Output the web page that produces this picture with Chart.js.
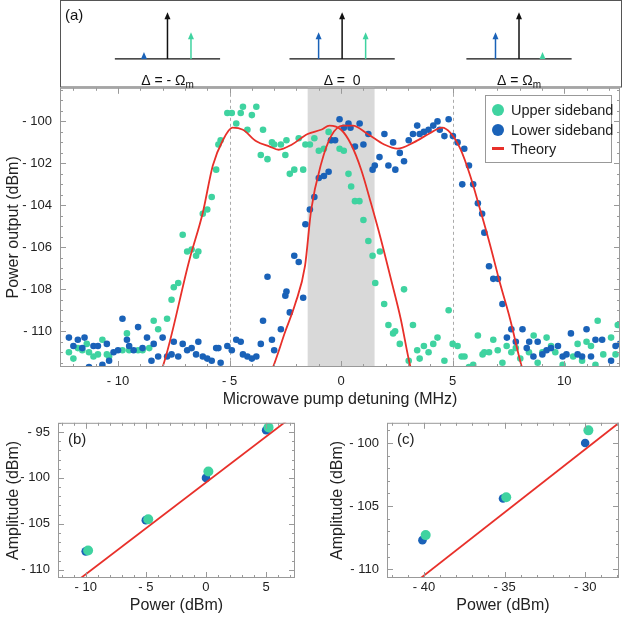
<!DOCTYPE html>
<html><head><meta charset="utf-8">
<script src="https://cdn.jsdelivr.net/npm/chart.js@4"></script>
<style>
body{margin:0;background:#fff;font-family:"Liberation Sans",Arial,sans-serif}
#wrap{position:relative;width:624px;height:619px;overflow:hidden}
.box{position:absolute}
#legend{position:absolute;left:485px;top:95px;width:125px;height:66px;border:1px solid #999;background:#fff;font-size:14.5px;color:#222}
.row{position:absolute;left:6px;height:20px;line-height:20px;white-space:nowrap}
.dot{display:inline-block;width:12px;height:12px;border-radius:50%;vertical-align:-1px;margin-right:7px}
.ln{display:inline-block;width:12px;height:3px;background:#e8302a;vertical-align:4px;margin-right:7px}
</style></head><body>
<div id="wrap">
 <div class="box" style="left:0;top:0;width:624px;height:90px"><canvas id="cTop"></canvas></div>
 <div class="box" style="left:0;top:72px;width:624px;height:341px"><canvas id="cMain"></canvas></div>
 <div class="box" style="left:0;top:407px;width:300px;height:212px"><canvas id="cB"></canvas></div>
 <div class="box" style="left:300px;top:407px;width:324px;height:212px"><canvas id="cC"></canvas></div>
 <div id="legend">
  <div class="row" style="top:4px"><span class="dot" style="background:#3fd3a0"></span>Upper sideband</div>
  <div class="row" style="top:24px"><span class="dot" style="background:#1a62b8"></span>Lower sideband</div>
  <div class="row" style="top:43px"><span class="ln"></span>Theory</div>
 </div>
</div>
<script>
// ---------- DATA ----------
const upperX=[-12.2,-12.0,-11.8,-11.6,-11.4,-11.3,-11.1,-10.9,-10.7,-10.5,-10.4,-9.8,-9.6,-9.5,-9.1,-8.9,-8.6,-8.4,-8.2,-7.8,-7.6,-7.5,-7.3,-7.1,-6.9,-6.7,-6.5,-6.4,-6.2,-6.0,-5.8,-5.6,-5.5,-5.4,-5.1,-4.9,-4.7,-4.5,-4.4,-4.2,-4.0,-3.8,-3.6,-3.5,-3.3,-3.1,-3.0,-2.7,-2.5,-2.45,-2.3,-2.1,-1.9,-1.7,-1.6,-1.4,-1.2,-1.0,-0.77,-0.56,-0.45,-0.07,0.12,0.33,0.45,0.62,0.82,1.0,1.22,1.41,1.53,1.74,1.93,2.12,2.33,2.42,2.63,2.82,3.03,3.22,3.41,3.52,3.71,3.92,4.13,4.32,4.63,4.82,5.0,5.22,5.4,5.53,5.73,5.92,6.13,6.34,6.42,6.63,6.82,7.02,7.23,7.42,7.63,7.83,8.03,8.42,8.63,8.81,9.02,9.21,9.41,9.6,9.93,10.4,10.6,10.8,11.0,11.2,11.4,11.5,11.75,12.1,12.3,12.4];
const upperY=[-111.0,-111.3,-110.8,-110.9,-110.6,-111.0,-111.2,-111.1,-110.4,-111.1,-111.2,-110.9,-110.1,-110.9,-110.9,-110.9,-110.8,-109.5,-109.9,-109.4,-108.5,-107.9,-107.7,-105.4,-106.2,-106.1,-106.4,-106.2,-104.4,-104.2,-103.6,-102.3,-101.1,-100.9,-99.6,-99.6,-100.1,-99.6,-99.3,-100.4,-99.7,-99.3,-101.6,-100.4,-101.8,-101.0,-101.1,-101.1,-101.6,-100.9,-102.5,-102.3,-100.8,-102.3,-101.1,-101.1,-100.8,-101.4,-101.3,-100.5,-100.9,-101.3,-101.4,-102.5,-103.1,-103.8,-103.8,-104.7,-105.7,-106.4,-107.7,-106.2,-108.7,-109.7,-110.1,-110.0,-110.6,-108.0,-111.4,-109.7,-110.9,-111.3,-110.7,-111.0,-110.6,-110.3,-111.4,-109.0,-110.6,-110.7,-111.2,-111.2,-111.7,-111.6,-110.2,-111.1,-111.0,-111.0,-110.4,-110.9,-111.5,-110.7,-111.0,-110.8,-111.3,-111.0,-110.2,-111.5,-111.0,-110.3,-110.7,-111.0,-111.6,-111.2,-110.6,-111.4,-110.5,-110.7,-111.6,-109.5,-111.1,-110.3,-111.1,-109.7];
const lowerX=[-12.2,-12.0,-11.8,-11.6,-11.5,-11.3,-11.1,-10.9,-10.7,-10.5,-10.4,-10.2,-10.0,-9.8,-9.6,-9.5,-9.3,-9.1,-8.9,-8.7,-8.5,-8.4,-8.2,-8.0,-7.8,-7.6,-7.5,-7.3,-7.1,-6.9,-6.7,-6.5,-6.4,-6.2,-6.0,-5.8,-5.6,-5.5,-5.4,-5.1,-4.9,-4.7,-4.5,-4.4,-4.2,-4.0,-3.8,-3.6,-3.5,-3.3,-3.1,-3.0,-2.7,-2.5,-2.45,-2.3,-2.1,-1.9,-1.7,-1.6,-1.4,-1.2,-1.0,-0.77,-0.56,-0.45,-0.27,-0.07,0.12,0.33,0.42,0.62,0.83,1.0,1.22,1.41,1.51,1.72,1.94,2.12,2.33,2.43,2.63,2.82,3.03,3.22,3.41,3.52,3.71,3.92,4.13,4.32,4.42,4.63,4.82,5.01,5.22,5.43,5.52,5.73,5.92,6.13,6.32,6.42,6.63,6.82,7.03,7.23,7.43,7.63,7.83,8.13,8.32,8.43,8.62,8.81,9.02,9.21,9.41,9.72,9.93,10.1,10.3,10.6,10.8,11.0,11.2,11.4,11.7,12.1,12.3,12.5];
const lowerY=[-110.3,-110.7,-110.4,-110.8,-110.3,-111.7,-110.7,-110.7,-111.6,-110.6,-111.4,-111.0,-110.9,-109.4,-110.4,-110.7,-110.9,-109.8,-110.8,-110.3,-111.4,-110.6,-111.2,-110.3,-111.2,-111.1,-110.5,-111.2,-110.6,-110.9,-110.8,-111.1,-110.5,-111.2,-111.3,-111.4,-110.8,-110.8,-111.5,-110.7,-110.9,-110.4,-110.5,-111.1,-111.2,-111.3,-111.2,-110.6,-109.5,-107.4,-110.4,-110.9,-109.9,-108.3,-108.1,-109.1,-106.4,-106.7,-108.4,-104.9,-104.2,-103.6,-102.7,-102.6,-102.4,-100.9,-100.9,-99.9,-100.3,-100.1,-100.3,-101.2,-100.1,-101.1,-100.6,-102.3,-102.1,-101.7,-100.6,-102.1,-101.0,-102.3,-101.5,-101.9,-100.9,-100.6,-100.2,-100.6,-100.5,-100.4,-100.2,-100.0,-100.4,-100.7,-99.9,-100.7,-101.0,-103.0,-101.3,-102.1,-103.0,-103.9,-104.4,-105.3,-106.9,-107.5,-107.5,-108.7,-110.3,-109.9,-110.5,-109.9,-110.8,-110.5,-111.2,-110.5,-111.1,-110.9,-110.8,-110.7,-111.2,-111.1,-110.1,-111.1,-111.2,-109.9,-111.2,-110.4,-110.4,-111.4,-110.7,-110.6];
const theoryUpX=[-8.3,-8.0,-6.8,-6.2,-5.75,-5.3,-4.87,-4.4,-3.8,-3.2,-2.8,-2.2,-1.5,-0.9,-0.52,0,0.45,0.9,1.34,1.78,2.23,2.67,3.1,3.3];
const theoryUpY=[-112.3,-111.7,-106.6,-104.35,-102.1,-100.9,-100.3,-100.4,-100.95,-101.2,-101.35,-101.1,-100.6,-100.4,-100.2,-100.4,-101.1,-102.3,-103.9,-105.6,-107.5,-109.4,-111.66,-112.3];
const theoryLoX=[-3.3,-3.05,-2.5,-2.06,-1.62,-1.34,-0.89,-0.45,0.07,0.52,1.19,1.93,2.52,3.26,4.0,4.53,4.9,5.34,5.79,6.23,6.68,7.12,7.57,8.09,8.3];
const theoryLoY=[-112.3,-111.7,-110.0,-108.7,-106.9,-104.2,-102.0,-100.7,-100.2,-100.2,-100.6,-101.1,-101.3,-101.0,-100.55,-100.3,-100.55,-101.3,-102.6,-104.2,-105.9,-107.7,-109.4,-111.66,-112.3];
const mainXTicks=[-10,-5,0,5,10];
const mainYTicks=[-110,-108,-106,-104,-102,-100];
const shadedBand=[-1.5,1.5];
const dashedLines=[-5,5];
// schematic (a)
const groupCenters=[-7.8,0,7.9];
const groupLabels=[["Δ = - Ω","m"],["Δ =  0",""],["Δ = Ω","m"]];
const arrowOffsets=[-1.05,0,1.05];
const arrowColors=["#1a62b8","#111111","#3fd3a0"];
const arrowHeights=[[0.15,1,0.57],[0.57,1,0.57],[0.57,1,0.15]];
// panel (b)
const bPower=[-10,-5,0,5];
const bLower=[-108,-104.6,-100,-94.8];
const bUpperX=[-9.8,-4.8,0.2,5.2];
const bUpper=[-107.9,-104.5,-99.3,-94.5];
const bTheoryX=[-12.5,7.5];
const bTheoryY=[-113,-93];
// panel (c)
const cPower=[-40.1,-35.1,-30];
const cLower=[-107.7,-104.4,-100];
const cUpperX=[-39.9,-34.9,-29.8];
const cUpper=[-107.3,-104.3,-99.0];
const cTheoryX=[-42,-27.5];
const cTheoryY=[-112.5,-98];

// ---------- STYLE ----------
const GREEN="#3fd3a0", BLUE="#1a62b8", RED="#e8302a";
Chart.defaults.font.family='"Liberation Sans", Arial, sans-serif';
Chart.defaults.color='#222';
const zip=(xs,ys)=>xs.map((x,i)=>({x,y:ys[i]}));
const fmt=v=>v<0?'- '+Math.abs(v):String(v);

const innerTicks={id:'innerTicks',afterDraw(ch,args,o){
  if(!o||!o.on)return;
  const {ctx,chartArea:a,scales:{x,y}}=ch;
  ctx.save();ctx.strokeStyle='#999';ctx.lineWidth=1;
  ctx.strokeRect(a.left+0.5,a.top+0.5,a.width-1,a.height-1);
  const eps=1e-6;
  for(let v=Math.ceil(x.min/o.xMinor)*o.xMinor;v<=x.max+eps;v+=o.xMinor){
    const p=Math.round(x.getPixelForValue(v))+0.5;
    const L=Math.abs(v/o.xMajor-Math.round(v/o.xMajor))<1e-3?6:3;
    ctx.beginPath();ctx.moveTo(p,a.bottom);ctx.lineTo(p,a.bottom-L);ctx.moveTo(p,a.top);ctx.lineTo(p,a.top+L);ctx.stroke();
  }
  for(let v=Math.ceil(y.min/o.yMinor)*o.yMinor;v<=y.max+eps;v+=o.yMinor){
    const p=Math.round(y.getPixelForValue(v))+0.5;
    const L=Math.abs(v/o.yMajor-Math.round(v/o.yMajor))<1e-3?6:3;
    ctx.beginPath();ctx.moveTo(a.left,p);ctx.lineTo(a.left+L,p);ctx.moveTo(a.right,p);ctx.lineTo(a.right-L,p);ctx.stroke();
  }
  if(o.label){ctx.fillStyle='#222';ctx.font='15px "Liberation Sans"';ctx.textBaseline='top';ctx.fillText(o.label,a.left+10,a.top+10);}
  ctx.restore();
}};
const decor={id:'decor',beforeDatasetsDraw(ch,args,o){
  if(!o||!o.on)return;
  const {ctx,chartArea:a,scales:{x}}=ch;
  ctx.save();
  ctx.fillStyle='#d9d9d9';
  const x1=x.getPixelForValue(shadedBand[0]),x2=x.getPixelForValue(shadedBand[1]);
  ctx.fillRect(x1,a.top,x2-x1,a.height);
  ctx.strokeStyle='#aaa';ctx.setLineDash([3,3]);ctx.lineWidth=1;
  dashedLines.forEach(v=>{const p=Math.round(x.getPixelForValue(v))+0.5;ctx.beginPath();ctx.moveTo(p,a.top);ctx.lineTo(p,a.bottom);ctx.stroke();});
  ctx.restore();
}};
Chart.register(innerTicks,decor);

function axes(xmin,xmax,ymin,ymax,xt,yt,yW,xH,xTitle,yTitle,fs,tpad){
  return {
    x:{type:'linear',min:xmin,max:xmax,afterBuildTicks:s=>{s.ticks=xt.map(v=>({value:v}))},
       afterFit:s=>{s.height=xH},grid:{display:false,drawTicks:false},border:{display:false},
       ticks:{callback:fmt,font:{size:13},padding:tpad,maxRotation:0},
       title:{display:true,text:xTitle,font:{size:fs},padding:{top:2}}},
    y:{type:'linear',min:ymin,max:ymax,afterBuildTicks:s=>{s.ticks=yt.map(v=>({value:v}))},
       afterFit:s=>{s.width=yW},grid:{display:false,drawTicks:false},border:{display:false},
       ticks:{callback:fmt,font:{size:13},padding:8},
       title:{display:true,text:yTitle,font:{size:fs},padding:{bottom:4}}}
  };
}

// ---------- MAIN ----------
new Chart(document.getElementById('cMain'),{
  type:'scatter',
  data:{datasets:[
    {type:'line',data:zip(theoryUpX,theoryUpY),borderColor:RED,borderWidth:1.8,pointRadius:0,tension:0.4,cubicInterpolationMode:'monotone',order:0},
    {type:'line',data:zip(theoryLoX,theoryLoY),borderColor:RED,borderWidth:1.8,pointRadius:0,tension:0.4,cubicInterpolationMode:'monotone',order:0},
    {data:zip(upperX,upperY),backgroundColor:GREEN,borderWidth:0,pointRadius:3.3,order:2},
    {data:zip(lowerX,lowerY),backgroundColor:BLUE,borderWidth:0,pointRadius:3.3,order:1}
  ]},
  options:{responsive:true,maintainAspectRatio:false,animation:false,
    layout:{padding:{top:1,right:2,left:0,bottom:0}},
    plugins:{legend:{display:false},tooltip:{enabled:false},
      innerTicks:{on:true,xMajor:5,xMinor:1,yMajor:2,yMinor:0.5},decor:{on:true}},
    scales:axes(-12.6,12.5,-111.7,-98.4,mainXTicks,mainYTicks,60,46,'Microwave pump detuning (MHz)','Power output (dBm)',16,7)}
});

// ---------- TOP SCHEMATIC ----------
const schem={id:'schem',afterDraw(ch){
  const {ctx,chartArea:a,scales:{x,y}}=ch;
  ctx.save();
  ctx.strokeStyle='#555';ctx.lineWidth=1;ctx.strokeRect(a.left+0.5,0.5,a.width-1,a.bottom-0.5);
  ctx.fillStyle='#111';ctx.font='15px "Liberation Sans"';ctx.textBaseline='top';ctx.fillText('(a)',a.left+5,8);
  const y0=y.getPixelForValue(0);
  groupCenters.forEach((c,g)=>{
    ctx.strokeStyle='#111';ctx.lineWidth=1.3;
    ctx.beginPath();ctx.moveTo(x.getPixelForValue(c-2.35),y0);ctx.lineTo(x.getPixelForValue(c+2.35),y0);ctx.stroke();
    arrowOffsets.forEach((off,k)=>{
      const px=x.getPixelForValue(c+off),py=y.getPixelForValue(arrowHeights[g][k]);
      ctx.strokeStyle=arrowColors[k];ctx.fillStyle=arrowColors[k];ctx.lineWidth=1.5;
      ctx.beginPath();ctx.moveTo(px,y0);ctx.lineTo(px,py+5);ctx.stroke();
      ctx.beginPath();ctx.moveTo(px,py);ctx.lineTo(px-3,py+7);ctx.lineTo(px+3,py+7);ctx.closePath();ctx.fill();
    });
    const [t,sub]=groupLabels[g];
    ctx.fillStyle='#111';ctx.font='14px "Liberation Sans"';ctx.textBaseline='alphabetic';
    const w=ctx.measureText(t).width;ctx.font='10px "Liberation Sans"';const ws=sub?ctx.measureText(sub).width:0;
    const sx=x.getPixelForValue(c)-(w+ws)/2;
    const ly=y.getPixelForValue(-0.55);
    ctx.font='14px "Liberation Sans"';ctx.fillText(t,sx,ly);
    if(sub){ctx.font='10px "Liberation Sans"';ctx.fillText(sub,sx+w,ly+3);}
  });
  ctx.restore();
}};
new Chart(document.getElementById('cTop'),{
  type:'scatter',data:{datasets:[{data:[]}]},
  options:{responsive:true,maintainAspectRatio:false,animation:false,
    layout:{padding:{left:60,right:2,top:0,bottom:3}},
    plugins:{legend:{display:false},tooltip:{enabled:false}},
    scales:{x:{display:false,min:-12.6,max:12.5},y:{display:false,min:-0.6,max:1.26}}},
  plugins:[schem]
});

// ---------- (b), (c) ----------
function small(id,lx,ly,ux,uy,tx,ty,xr,yr,xt,yt,yW,padL,label){
  new Chart(document.getElementById(id),{
    type:'scatter',
    data:{datasets:[
      {type:'line',data:zip(tx,ty),borderColor:RED,borderWidth:1.8,pointRadius:0,order:0},
      {data:zip(ux,uy),backgroundColor:GREEN,borderWidth:0,pointRadius:5,order:1},
      {data:zip(lx,ly),backgroundColor:BLUE,borderWidth:0,pointRadius:4.3,order:2}
    ]},
    options:{responsive:true,maintainAspectRatio:false,animation:false,
      layout:{padding:{top:0,right:2,left:padL,bottom:0}},
      plugins:{legend:{display:false},tooltip:{enabled:false},
        innerTicks:{on:true,xMajor:5,xMinor:1,yMajor:5,yMinor:1,label}},
      scales:axes(xr[0],xr[1],yr[0],yr[1],xt,yt,yW,41,'Power (dBm)','Amplitude (dBm)',16,2)}
  });
}
small('cB',bPower,bLower,bUpperX,bUpper,bTheoryX,bTheoryY,[-12.3,7.4],[-110.9,-94.0],[-10,-5,0,5],[-110,-105,-100,-95],58,0,'(b)');
small('cC',cPower,cLower,cUpperX,cUpper,cTheoryX,cTheoryY,[-42.3,-27.9],[-110.7,-98.4],[-40,-35,-30],[-110,-105,-100],63,24,'(c)');
</script>
</body></html>
